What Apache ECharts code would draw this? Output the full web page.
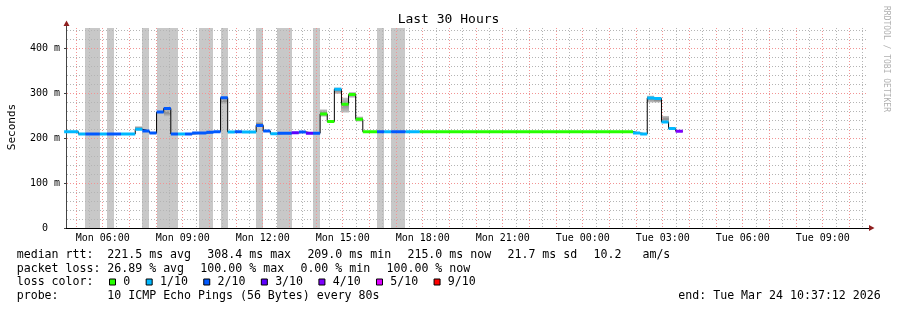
<!DOCTYPE html>
<html>
<head>
<meta charset="utf-8">
<script src="https://cdn.jsdelivr.net/npm/echarts@6.0.0/dist/echarts.min.js"></script>
<style>
html,body{margin:0;padding:0;background:#fff;}
#chart{width:897px;height:310px;}
</style>
</head>
<body>
<div id="chart"></div>
<script>
// ---- data (x values are minutes since Monday 00:00) ----
const axisStart = 277.2;   // Mon 04:37:12
const axisEnd = 2077.2;    // Tue 10:37:12
const yMax = 444.4;

const xTickValues = [360, 540, 720, 900, 1080, 1260, 1440, 1620, 1800, 1980];
const xTickLabels = ['Mon 06:00','Mon 09:00','Mon 12:00','Mon 15:00','Mon 18:00','Mon 21:00','Tue 00:00','Tue 03:00','Tue 06:00','Tue 09:00'];
const yTickValues = [0, 100, 200, 300, 400];
const yTickLabels = ['0  ', '100 m', '200 m', '300 m', '400 m'];

const stepStart = [273,305,321,353,369,401,433,449,465,481,497,513,529,545,561,593,609,625,641,657,673,705,721,737,753,785,801,817,833,849,865,881,897,913,929,945,977,993,1009,1041,1073,1553,1569,1585,1601,1617,1633,1649];
const dataEnd = 1665;
const medianMs = [214,209,209,209,209,209,219.5,215.5,211,257.5,265.5,209,209,209,211,212.5,214,289.5,213.5,214,213.5,228,215.5,209.5,210.5,211.5,213.5,210.5,210.5,253.5,236.5,308.4,275,296.5,241.5,214,214,214,214,214,214,211,209,289,288,235.5,221,215];
const lossIndex = [1,1,2,1,2,1,1,2,2,2,2,2,1,2,2,2,2,2,1,2,1,2,2,1,2,3,2,3,2,0,0,1,0,0,0,0,2,1,2,1,0,1,1,1,1,1,1,4];
const smokeLow  = [null,null,null,null,null,null,219,null,null,null,247.5,null,null,null,null,null,null,275,null,null,null,229,null,null,null,null,null,null,null,247.5,null,298,256.5,289.5,236.5,null,null,null,null,null,null,null,null,279,279,235,null,null];
const smokeHigh = [null,null,null,null,null,null,226,null,null,null,264,null,null,null,null,null,null,289,null,null,null,235.5,null,null,null,null,null,null,null,263.5,null,312,289.5,302,247.5,null,null,null,null,null,null,null,null,294,288,249,null,null];

const outageStart = [321, 369, 449, 481, 577, 625, 705, 753, 833, 977, 1009];
const outageEnd   = [353, 385, 465, 529, 609, 641, 721, 785, 849, 993, 1041];

const lossLabels = ['0','1/10','2/10','3/10','4/10','5/10','9/10'];
const lossColors = ['#26ff00','#00b8ff','#0059ff','#5e00ff','#7e00ff','#dd00ff','#ff0000'];

const titleText = 'Last 30 Hours';
const legendLine1 = ['median rtt:', '221.5 ms avg', '308.4 ms max', '209.0 ms min', '215.0 ms now', '21.7 ms sd', '10.2   am/s'];
const legendLine2 = ['packet loss:', '26.89 % avg', '100.00 % max', '0.00 % min', '100.00 % now'];
const probeText = '10 ICMP Echo Pings (56 Bytes) every 80s';
const endText = 'end: Tue Mar 24 10:37:12 2026';

// ---- build ----
const FONT = '"DejaVu Sans Mono", "Liberation Mono", monospace';
const chart = echarts.init(document.getElementById('chart'), null, {renderer: 'canvas', width: 897, height: 310});

function stepEndAt(i) { return i + 1 < stepStart.length ? stepStart[i + 1] : dataEnd; }

const medianData = stepStart.map((t, i) => [t, medianMs[i]]);
medianData.push([dataEnd, medianMs[medianMs.length - 1]]);

function lossSegments(level) {
  const out = [];
  for (let i = 0; i < stepStart.length; i++) {
    if (lossIndex[i] !== level) continue;
    const t1 = stepEndAt(i);
    out.push([stepStart[i], medianMs[i]], [t1, medianMs[i]], [t1, null]);
  }
  return out;
}

const smokeData = [];
for (let i = 0; i < stepStart.length; i++) {
  if (smokeLow[i] != null) smokeData.push([stepStart[i], stepEndAt(i), smokeLow[i], smokeHigh[i]]);
}
const outageData = outageStart.map((s, i) => [s, outageEnd[i]]);

// grid lines: [position, orientation (0 = vertical, 1 = horizontal), major (1) / minor (0)]
const gridData = [];
for (let m = 300; m <= axisEnd; m += 60) gridData.push([m, 0, 1]);
for (let m = 330; m <= axisEnd; m += 60) gridData.push([m, 0, 0]);
for (let v = 20; v <= yMax; v += 20) gridData.push([v, 1, v % 100 === 0 ? 1 : 0]);

const G_LEFT = 66, G_TOP = 28, G_RIGHT = 866, G_BOTTOM = 228;

const series = [
  {
    type: 'custom', name: 'outage', z: 1, silent: true,
    data: outageData, encode: {x: [0, 1]},
    renderItem: function (params, api) {
      const p0 = api.coord([api.value(0), yMax]);
      const p1 = api.coord([api.value(1), 0]);
      const x0 = Math.round(p0[0]), x1 = Math.round(p1[0]);
      return {type: 'rect', shape: {x: x0, y: p0[1], width: x1 - x0, height: p1[1] - p0[1]}, style: {fill: '#c8c8c8'}};
    }
  },
  {
    type: 'custom', name: 'smoke', z: 2, silent: true,
    data: smokeData, encode: {x: [0, 1], y: [2, 3]},
    renderItem: function (params, api) {
      const p0 = api.coord([api.value(0), api.value(3)]);
      const p1 = api.coord([api.value(1), api.value(2)]);
      const x0 = Math.round(p0[0]), x1 = Math.round(p1[0]);
      return {type: 'rect', shape: {x: x0, y: p0[1], width: x1 - x0, height: p1[1] - p0[1]},
        style: {fill: new echarts.graphic.LinearGradient(0, 0, 0, 1, [
          {offset: 0, color: '#c4c4c4'}, {offset: 0.5, color: '#8e8e8e'}, {offset: 1, color: '#c4c4c4'}])}};
    }
  },
  {
    type: 'custom', name: 'grid', z: 3, silent: true,
    data: gridData, encode: {x: 0},
    renderItem: function (params, api) {
      const pos = api.value(0), horiz = api.value(1) === 1, major = api.value(2) === 1;
      const lo = api.coord([axisStart, 0]), hi = api.coord([axisEnd, yMax]);
      let shape;
      if (horiz) {
        const y = Math.round(api.coord([axisStart, pos])[1]) + 0.5;
        shape = {x1: lo[0] + 1, y1: y, x2: hi[0], y2: y};
      } else {
        const x = Math.floor(api.coord([pos, 0])[0]) + 0.5;
        shape = {x1: x, y1: hi[1], x2: x, y2: lo[1]};
      }
      return {type: 'line', shape: shape,
        style: {stroke: major ? '#f29494' : '#b4b4b4', lineWidth: 1, lineDash: [1, 2]}};
    }
  },
  {
    type: 'line', name: 'median', data: medianData, step: 'end', z: 4,
    showSymbol: false, silent: true, lineStyle: {color: '#000', width: 1}
  }
];
for (let L = 0; L < lossColors.length; L++) {
  const d = lossSegments(L);
  if (!d.length) continue;
  series.push({
    type: 'line', name: lossLabels[L], data: d, z: 5, showSymbol: false, silent: true,
    connectNulls: false, lineStyle: {color: lossColors[L], width: 3, cap: 'butt'}
  });
}

// ---- decorations (text, legend, arrows) ----
const graphics = [];
function txt(x, y, text, size, opts) {
  opts = opts || {};
  graphics.push(Object.assign({
    type: 'text', x: x, y: y, silent: true,
    style: {text: text, font: size + 'px ' + FONT, fill: opts.fill || '#000',
      textAlign: opts.align || 'left', align: opts.align || 'left',
      textVerticalAlign: 'middle', verticalAlign: 'middle'}
  }, opts.rotation != null ? {rotation: opts.rotation} : {}));
}
txt(448.5, 20, titleText, 13, {align: 'center'});
txt(12, 127, 'Seconds', 11, {align: 'center', rotation: Math.PI / 2});
txt(886.5, 59, 'RRDTOOL / TOBI OETIKER', 8, {align: 'center', rotation: -Math.PI / 2, fill: '#b0b0b0'});

const CW = 6.97, GAP = 16.4, LFS = 11.6;
const rowY = [255, 268.5, 282.3, 296];
function placeRow(chunks, y) {
  txt(16.7, y, chunks[0], LFS);
  let x = 107.3;
  for (let i = 1; i < chunks.length; i++) {
    txt(x, y, chunks[i], LFS);
    x += chunks[i].length * CW + GAP;
  }
}
placeRow(legendLine1, rowY[0]);
placeRow(legendLine2, rowY[1]);
txt(16.7, rowY[2], 'loss color:', LFS);
let lx = 109;
for (let i = 0; i < lossLabels.length; i++) {
  graphics.push({type: 'rect', silent: true, shape: {x: lx + 0.5, y: rowY[2] - 3.3, width: 6, height: 6},
    style: {fill: lossColors[i], stroke: '#000', lineWidth: 1}});
  txt(lx + 14.3, rowY[2], lossLabels[i], LFS);
  lx += 14.3 + lossLabels[i].length * CW + 15.4;
}
txt(16.7, rowY[3], 'probe:', LFS);
txt(107.3, rowY[3], probeText, LFS);
txt(678.3, rowY[3], endText, LFS);

// axis arrows
graphics.push({type: 'line', silent: true, shape: {x1: G_LEFT + 0.5, y1: G_TOP, x2: G_LEFT + 0.5, y2: 25}, style: {stroke: '#444', lineWidth: 1}});
graphics.push({type: 'polygon', silent: true, shape: {points: [[63.5, 26], [69.5, 26], [66.5, 20.5]]}, style: {fill: '#8f1f1f'}});
graphics.push({type: 'line', silent: true, shape: {x1: G_RIGHT, y1: G_BOTTOM + 0.5, x2: 869, y2: G_BOTTOM + 0.5}, style: {stroke: '#000', lineWidth: 1}});
graphics.push({type: 'polygon', silent: true, shape: {points: [[869, 225], [869, 231], [874.5, 228]]}, style: {fill: '#8f1f1f'}});

chart.setOption({
  animation: false,
  backgroundColor: '#ffffff',
  grid: {left: G_LEFT, top: G_TOP, width: G_RIGHT - G_LEFT, height: G_BOTTOM - G_TOP, containLabel: false},
  xAxis: {
    type: 'value', min: axisStart, max: axisEnd,
    axisLine: {show: true, onZero: false, lineStyle: {color: '#000', width: 1}},
    axisTick: {show: false},
    splitLine: {show: false},
    axisLabel: {
      show: true, customValues: xTickValues, margin: 5,
      fontFamily: FONT, fontSize: 10, color: '#000',
      formatter: function (v) { const i = xTickValues.indexOf(v); return i >= 0 ? xTickLabels[i] : ''; }
    }
  },
  yAxis: {
    type: 'value', min: 0, max: yMax,
    axisLine: {show: true, onZero: false, lineStyle: {color: '#444', width: 1}},
    axisTick: {show: true, customValues: yTickValues, length: 2, lineStyle: {color: '#444'}},
    splitLine: {show: false},
    axisLabel: {
      show: true, customValues: yTickValues, margin: 6,
      fontFamily: FONT, fontSize: 10, color: '#000',
      formatter: function (v) { const i = yTickValues.indexOf(v); return i >= 0 ? yTickLabels[i] : ''; }
    }
  },
  graphic: {elements: graphics},
  series: series
});
</script>
</body>
</html>
